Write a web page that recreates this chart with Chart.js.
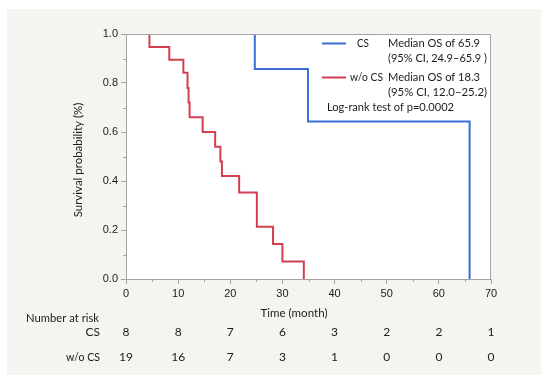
<!DOCTYPE html>
<html>
<head>
<meta charset="utf-8">
<script src="https://cdn.jsdelivr.net/npm/chart.js@4.4.1/dist/chart.umd.min.js"></script>
<style>
  html, body { margin: 0; padding: 0; background: #fff; }
  canvas { display: block; }
</style>
</head>
<body>
<canvas id="kmChart" width="550" height="382"></canvas>
<script>
// ====== Data ======
const csTimes = [0, 24.7, 34.9, 65.9];
const csSurv = [1, 0.857, 0.643, 0];

const woTimes = [0, 4.5, 8.3, 11.0, 11.8, 12.0, 12.2, 14.7, 17.1, 18.1, 18.4, 21.7, 25.1, 28.2, 30.0, 34.1];
const woSurv = [1, 0.947, 0.895, 0.842, 0.78, 0.72, 0.66, 0.60, 0.54, 0.48, 0.42, 0.353, 0.213, 0.143, 0.071, 0];

const riskTimes = [0, 10, 20, 30, 40, 50, 60, 70];
const riskCS = [8, 8, 7, 6, 3, 2, 2, 1];
const riskWo = [19, 16, 7, 3, 1, 0, 0, 0];

const legendRows = [
  { name: "CS", median: "Median OS of 65.9", ci: "(95% CI, 24.9\u201365.9 )" },
  { name: "w/o CS", median: "Median OS of 18.3", ci: "(95% CI, 12.0\u201325.2)" },
];
const logRankText = "Log-rank test of p=0.0002";

// ====== Styles ======
const BLUE = "#3c6cd6";
const RED = "#d23f52";
const AXIS = "#a3a3a3";
const TEXT = "#1b1b1b";
const LABEL_FONT = "Lato, 'Open Sans', sans-serif";

const toPoints = (xs, ys) => xs.map((x, i) => ({ x, y: ys[i] }));

// background panel + white plot area
const backgroundPlugin = {
  id: "panelBg",
  beforeDraw(chart) {
    const { ctx, chartArea: a } = chart;
    ctx.save();
    ctx.fillStyle = "#ffffff";
    ctx.fillRect(0, 0, chart.width, chart.height);
    ctx.fillStyle = "#f5f4f0";
    ctx.fillRect(7, 9, 534, 366);
    ctx.fillStyle = "#ffffff";
    ctx.fillRect(a.left, a.top, a.right - a.left, a.bottom - a.top);
    ctx.restore();
  },
};

// frame on top/right, minor ticks, legend and risk table
const extrasPlugin = {
  id: "kmExtras",
  afterDatasetsDraw(chart) {
    const { ctx, chartArea: a, scales } = chart;
    ctx.save();
    ctx.strokeStyle = AXIS;
    ctx.lineWidth = 1;
    ctx.beginPath();
    ctx.moveTo(a.left, a.top + 0.5);
    ctx.lineTo(a.right - 0.5, a.top + 0.5);
    ctx.lineTo(a.right - 0.5, a.bottom);
    ctx.stroke();

    // minor ticks
    ctx.beginPath();
    for (let t = 5; t < 70; t += 10) {
      const px = Math.round(scales.x.getPixelForValue(t)) + 0.5;
      ctx.moveTo(px, a.bottom);
      ctx.lineTo(px, a.bottom + 3);
    }
    for (let v = 0.1; v < 1; v += 0.2) {
      const py = Math.round(scales.y.getPixelForValue(v)) + 0.5;
      ctx.moveTo(a.left - 3, py);
      ctx.lineTo(a.left, py);
    }
    ctx.stroke();
    ctx.restore();
  },
  afterDraw(chart) {
    const { ctx, scales } = chart;
    ctx.save();
    ctx.fillStyle = TEXT;
    ctx.textBaseline = "middle";
    ctx.font = "12px " + LABEL_FONT;

    // y title
    ctx.save();
    ctx.translate(78, 160);
    ctx.rotate(-Math.PI / 2);
    ctx.textAlign = "center";
    ctx.font = "11.5px " + LABEL_FONT;
    ctx.fillText("Survival probability (%)", 0, 0, 116);
    ctx.restore();

    // x title
    ctx.textAlign = "center";
    ctx.fillText("Time (month)", 294, 313, 67);

    // legend (Calibri-like widths via maxWidth)
    const colors = [BLUE, RED];
    const rowY = [43.5, 77.5];
    const nameX = [357, 350];
    const nameW = [12, 33];
    legendRows.forEach((r, i) => {
      ctx.strokeStyle = colors[i];
      ctx.lineWidth = 2;
      ctx.beginPath();
      ctx.moveTo(322, rowY[i]);
      ctx.lineTo(346, rowY[i]);
      ctx.stroke();
      ctx.textAlign = "left";
      ctx.fillText(r.name, nameX[i], rowY[i], nameW[i]);
      ctx.fillText(r.median, 388, rowY[i], 92);
      ctx.fillText(r.ci, 388, rowY[i] + 15, 99);
    });
    ctx.fillText(logRankText, 327, 107.5, 127);

    // number at risk
    ctx.textAlign = "left";
    ctx.fillText("Number at risk", 26, 318, 73);
    ctx.textAlign = "right";
    ctx.fillText("CS", 100, 332);
    ctx.fillText("w/o CS", 100, 357, 34);
    ctx.textAlign = "center";
    riskTimes.forEach((t, i) => {
      const px = scales.x.getPixelForValue(t);
      ctx.fillText(String(riskCS[i]), px, 332);
      ctx.fillText(String(riskWo[i]), px, 357);
    });
    ctx.restore();
  },
};

const ctx = document.getElementById("kmChart");

new Chart(ctx, {
  type: "line",
  data: {
    datasets: [
      {
        label: "CS",
        data: toPoints(csTimes, csSurv),
        borderColor: BLUE,
        borderWidth: 2,
        stepped: true,
        pointRadius: 0,
        fill: false,
        clip: 0,
      },
      {
        label: "w/o CS",
        data: toPoints(woTimes, woSurv),
        borderColor: RED,
        borderWidth: 2,
        stepped: true,
        pointRadius: 0,
        fill: false,
        clip: 0,
      },
    ],
  },
  options: {
    responsive: false,
    animation: false,
    layout: { padding: { top: 34, right: 59, left: 0, bottom: 0 } },
    plugins: {
      legend: { display: false },
      tooltip: { enabled: false },
    },
    scales: {
      x: {
        type: "linear",
        min: 0,
        max: 70,
        ticks: {
          stepSize: 10,
          color: TEXT,
          padding: 3,
          maxRotation: 0,
          font: { family: "'Liberation Sans', Arial, sans-serif", size: 11 },
        },
        grid: { drawOnChartArea: false, drawTicks: true, tickLength: 5, color: AXIS },
        border: { color: AXIS, width: 1 },
        afterFit(scale) { scale.height = 103; },
      },
      y: {
        min: 0,
        max: 1,
        ticks: {
          stepSize: 0.2,
          color: TEXT,
          padding: 3,
          callback: v => v.toFixed(1),
          font: { family: "'Liberation Sans', Arial, sans-serif", size: 11 },
        },
        grid: { drawOnChartArea: false, drawTicks: true, tickLength: 5, color: AXIS },
        border: { color: AXIS, width: 1 },
        afterFit(scale) { scale.width = 126; },
      },
    },
  },
  plugins: [backgroundPlugin, extrasPlugin],
});
</script>
</body>
</html>
